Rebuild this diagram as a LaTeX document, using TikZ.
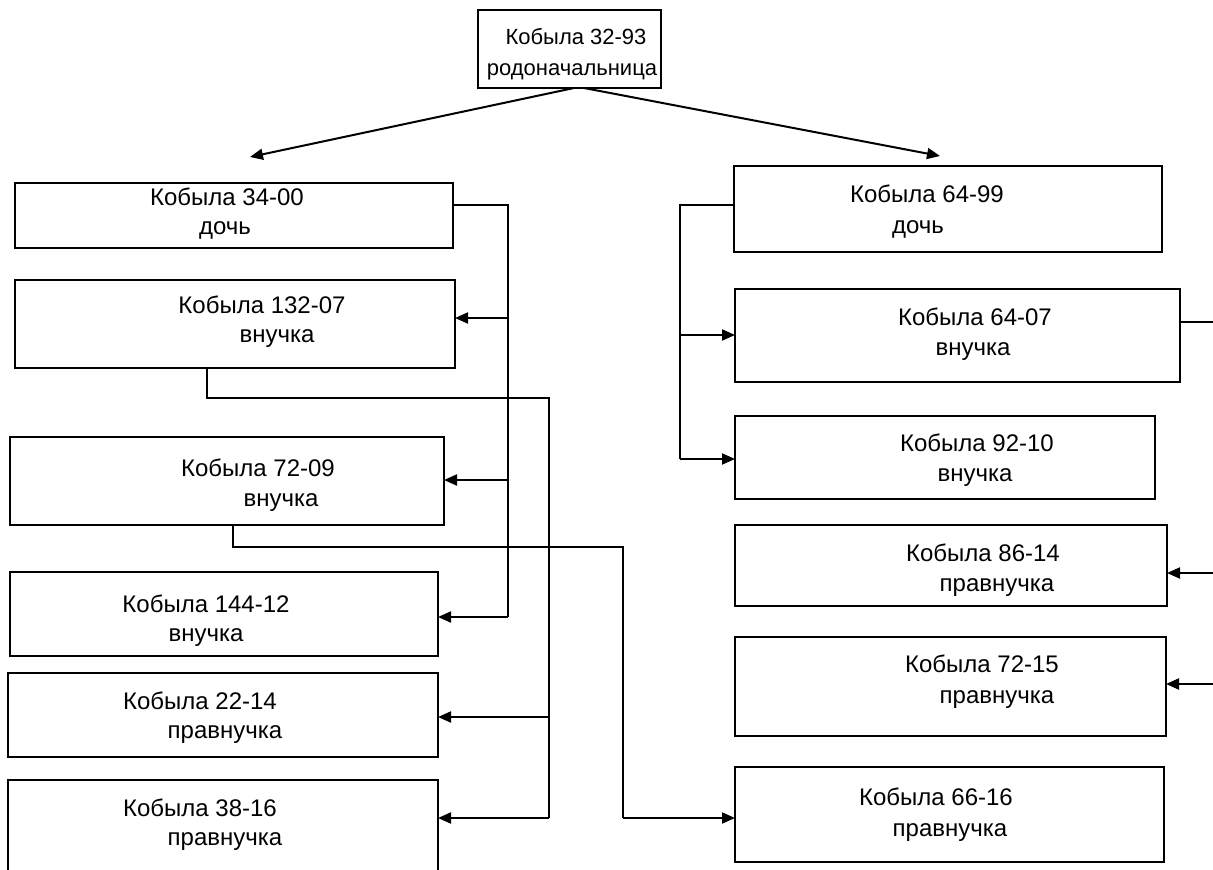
\documentclass[tikz,border=0pt]{standalone}
\usepackage{fontspec}
\setmainfont{Liberation Sans}
\usetikzlibrary{arrows.meta}
\begin{document}
\begin{tikzpicture}[x=1pt,y=-1pt,
  box/.style={draw, line width=1.4pt, rectangle, inner sep=0pt, outer sep=0pt, anchor=north west},
  lbltop/.style={font=\fontsize{22}{26}\selectfont, inner sep=0pt, anchor=base},
  lbl/.style={font=\fontsize{24}{28}\selectfont, inner sep=0pt, anchor=base},
  link/.style={line width=1.3pt},
  feed/.style={line width=2pt, -{Triangle[length=13pt,width=11pt]}},
]
\useasboundingbox (0,0) rectangle (1213,870);
\clip (0,0) rectangle (1213,870);

% boxes
\node[box, minimum width=183pt, minimum height=78pt] (root) at (478,10) {};
\node[box, minimum width=438pt, minimum height=65pt] (d1) at (15,183) {};
\node[box, minimum width=440pt, minimum height=88pt] (g1) at (15,280) {};
\node[box, minimum width=434pt, minimum height=88pt] (g2) at (10,437) {};
\node[box, minimum width=428pt, minimum height=84pt] (g3) at (10,572) {};
\node[box, minimum width=430pt, minimum height=84pt] (p1) at (8,673) {};
\node[box, minimum width=430pt, minimum height=100pt] (p2) at (8,780) {};
\node[box, minimum width=428pt, minimum height=86pt] (d2) at (734,166) {};
\node[box, minimum width=445pt, minimum height=93pt] (g4) at (735,289) {};
\node[box, minimum width=420pt, minimum height=83pt] (g5) at (735,416) {};
\node[box, minimum width=432pt, minimum height=81pt] (p3) at (735,525) {};
\node[box, minimum width=431pt, minimum height=99pt] (p4) at (735,637) {};
\node[box, minimum width=429pt, minimum height=95pt] (p5) at (735,767) {};

% labels, root
\node[lbltop] (t0a) at (576,44) {Кобыла 32-93};
\node[lbltop] (t0b) at (572,75) {родоначальница};

% labels, right column
\node[lbl] (t7a) at (927,202) {Кобыла 64-99};
\node[lbl] (t7b) at (918,233) {дочь};
\node[lbl] (t8a) at (975,325) {Кобыла 64-07};
\node[lbl] (t8b) at (973,355) {внучка};
\node[lbl] (t9a) at (977,451) {Кобыла 92-10};
\node[lbl] (t9b) at (975,481) {внучка};
\node[lbl] (t10a) at (983,561) {Кобыла 86-14};
\node[lbl] (t10b) at (997,591) {правнучка};
\node[lbl] (t11a) at (982,672) {Кобыла 72-15};
\node[lbl] (t11b) at (997,703) {правнучка};
\node[lbl] (t12a) at (936,805) {Кобыла 66-16};
\node[lbl] (t12b) at (950,836) {правнучка};

% labels, left column
\node[lbl] (t1a) at (227,205) {Кобыла 34-00};
\node[lbl] (t1b) at (225,234) {дочь};
\node[lbl] (t2a) at (262,313) {Кобыла 132-07};
\node[lbl] (t2b) at (277,342) {внучка};
\node[lbl] (t3a) at (258,476) {Кобыла 72-09};
\node[lbl] (t3b) at (281,506) {внучка};
\node[lbl] (t4a) at (206,612) {Кобыла 144-12};
\node[lbl] (t4b) at (206,641) {внучка};
\node[lbl] (t5a) at (200,709) {Кобыла 22-14};
\node[lbl] (t5b) at (225,738) {правнучка};
\node[lbl] (t6a) at (200,816) {Кобыла 38-16};
\node[lbl] (t6b) at (225,845) {правнучка};

% junction points of the tree lines
\coordinate (ja) at (508,205);
\coordinate (jb) at (549,398);
\coordinate (jc) at (623,547);
\coordinate (jd) at (680,205);
\coordinate (rootL) at (574,88);
\coordinate (rootR) at (584,88);
\coordinate (edgeH) at (1213,322);
\coordinate (edgeJ) at (1213,573);
\coordinate (edgeK) at (1213,684);

% root to daughters
\draw[feed] (rootL) -- (250,157);
\draw[feed] (rootR) -- (940,156);

% daughter 34-00 branch
\draw[link] (d1.east |- ja) -- (ja) -- (508,617);
\draw[feed] (508,318) -- (g1.east |- 0,318);
\draw[feed] (508,480) -- (g2.east |- 0,480);
\draw[feed] (508,617) -- (g3.east |- 0,617);

% granddaughter 132-07 branch
\draw[link] (g1.south -| 207,0) -- (207,398) -- (jb) -- (549,818);
\draw[feed] (549,717) -- (p1.east |- 0,717);
\draw[feed] (549,818) -- (p2.east |- 0,818);

% granddaughter 72-09 branch
\draw[link] (g2.south -| 233,0) -- (233,547) -- (jc) -- (623,818);
\draw[feed] (623,818) -- (p5.west |- 0,818);

% daughter 64-99 branch
\draw[link] (d2.west |- jd) -- (jd) -- (680,459);
\draw[feed] (680,335) -- (g4.west |- 0,335);
\draw[feed] (680,459) -- (g5.west |- 0,459);

% lines running off to the right
\draw[link] (g4.east |- edgeH) -- (edgeH);
\draw[feed] (edgeJ) -- (p3.east |- edgeJ);
\draw[feed] (edgeK) -- (p4.east |- edgeK);
\end{tikzpicture}
\end{document}
